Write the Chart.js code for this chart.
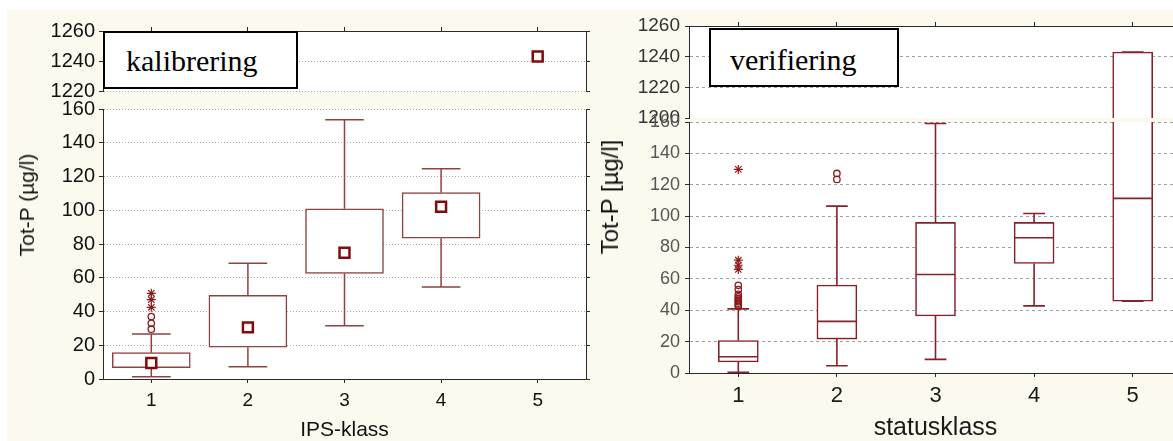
<!DOCTYPE html>
<html lang="sv">
<head>
  <meta charset="UTF-8" />
  <title>Tot-P per klass</title>
  <script src="https://cdn.jsdelivr.net/npm/chart.js@4"></script>
  <style>
    html, body { margin: 0; padding: 0; background: #fff; width: 1173px; height: 441px; overflow: hidden; }
    .paper { position: absolute; left: 7px; top: 10px; right: 0; bottom: 0; background: #fcf9ee; }
    canvas { position: absolute; }
    .tag {
      position: absolute; box-sizing: border-box; border: 2px solid #000; background: #fff; color: #000;
      font-family: 'Liberation Serif', 'Times New Roman', serif; font-size: 30px; line-height: 30px;
    }
    .ytitle {
      position: absolute; white-space: nowrap; color: #111;
      font-family: 'Liberation Sans', Arial, sans-serif;
      transform: translate(-50%, -50%) rotate(-90deg);
    }
  </style>
</head>
<body>
  <div class="paper"></div>

  <!-- kalibrering: upper and lower part of the broken axis -->
  <canvas id="kalTop" width="600" height="110" style="left:0;top:0"></canvas>
  <canvas id="kalBot" width="600" height="351" style="left:0;top:90px"></canvas>
  <!-- verifiering -->
  <canvas id="verTop" width="600" height="140" style="left:600px;top:0"></canvas>
  <canvas id="verBot" width="600" height="346" style="left:600px;top:95px"></canvas>

  <div class="tag" style="left:103px;top:31px;width:195px;height:58px;padding:13px 0 0 21px">kalibrering</div>
  <div class="tag" style="left:709px;top:28px;width:190px;height:59px;padding:15px 0 0 19px">verifiering</div>
  <div class="ytitle" style="left:27px;top:205px;font-size:21px">Tot-P (µg/l)</div>
  <div class="ytitle" style="left:610px;top:197px;font-size:24px">Tot-P [µg/l]</div>

  <script>
    const klasser = [1, 2, 3, 4, 5];

    const kalTicksTop = [1220, 1240, 1260];
    const kalTicksLow = [0, 20, 40, 60, 80, 100, 120, 140, 160];
    const verTicksTop = [1200, 1220, 1240, 1260];
    const verTicksLow = [0, 20, 40, 60, 80, 100, 120, 140, 160];

    // kalibrering per IPS-klass (klass 5 has a single value)
    const kalMin  = [1.4, 7.3, 31.6, 54.5, null];
    const kalQ1   = [6.7, 18.8, 62.6, 83.4, null];
    const kalQ3   = [15.6, 49.6, 100.9, 110.4, null];
    const kalMax  = [26.7, 68.6, 153.7, 124.6, null];
    const kalMean = [9.5, 30.6, 74.8, 102.1, 1243];
    const kalOut  = [[29.5, 33, 37], [], [], [], []];
    const kalExtr = [[42.5, 47, 50.8], [], [], [], []];

    // verifiering per statusklass
    const verMin  = [0.5, 4.6, 8.7, 42.8, 45.8];
    const verQ1   = [7.0, 21.6, 36.4, 69.8, 45.8];
    const verMed  = [10.4, 32.9, 62.8, 86.2, 111.3];
    const verQ3   = [20.7, 56.1, 96.0, 96.0, 1243];
    const verMax  = [40.9, 106.4, 159, 101.7, 1243];
    const verOut  = [[42.5, 43.5, 44.5, 45.5, 46.5, 47.5, 48.5, 50.2, 53.2, 55.9], [123.4, 127.2], [], [], []];
    const verExtr = [[66, 68.7, 71.9, 129.8], [], [], [], []];

    const kal = { min: kalMin, q1: kalQ1, q3: kalQ3, max: kalMax, mean: kalMean, out: kalOut, extr: kalExtr };
    const ver = { min: verMin, q1: verQ1, med: verMed, q3: verQ3, max: verMax, out: verOut, extr: verExtr };

    const frameColor = '#2a2a2a';
    const kalStyle = { box: '#8e4242', boxWidth: 1.5, boxPx: 78, capHalf: 0.2, medHalf: 0.4, mean: '#830a0a', point: '#8a1c1c' };
    const verStyle = { box: '#86202a', boxWidth: 1.6, boxPx: 40, capHalf: 0.11, medHalf: 0.2, mean: '#830a0a', point: '#8a1c1c' };

    Chart.defaults.font.family = "'Liberation Sans', Arial, sans-serif";
    Chart.defaults.animation = false;
    Chart.defaults.events = [];
    Chart.defaults.plugins.legend.display = false;
    Chart.defaults.plugins.tooltip.enabled = false;

    // white plot area on the cream page
    const plotBg = {
      id: 'plotBg',
      beforeDraw(chart) {
        const { ctx, chartArea: a } = chart;
        ctx.save();
        ctx.fillStyle = '#fff';
        ctx.fillRect(a.left, a.top, a.width, a.height);
        ctx.restore();
      }
    };

    // part of [a, b] inside [lo, hi]
    function clip(a, b, lo, hi) {
      const s = Math.max(Math.min(a, b), lo);
      const e = Math.min(Math.max(a, b), hi);
      return s <= e ? [s, e] : null;
    }

    // line segments [x1, y1, x2, y2] as one broken line
    function segPoints(list) {
      const pts = [];
      list.forEach(([x1, y1, x2, y2]) => pts.push({ x: x1, y: y1 }, { x: x2, y: y2 }, { x: null, y: null }));
      return pts;
    }

    function sectionDatasets(s, lo, hi, st) {
      const inside = v => v != null && v >= lo && v <= hi;
      const bars = [], skips = [], whisk = [], meds = [], means = [], outs = [], extr = [];

      klasser.forEach((k, i) => {
        if (s.q1[i] != null) {
          const b = clip(s.q1[i], s.q3[i], lo, hi);
          if (b) {
            bars.push({ x: k, y: b });
            skips.push(s.q3[i] > hi ? 'top' : s.q1[i] < lo ? 'bottom' : false);
          }
          [[s.q3[i], s.max[i]], [s.min[i], s.q1[i]]].forEach(([a, c]) => {
            const w = clip(a, c, lo, hi);
            if (w && w[1] > w[0]) whisk.push([k, w[0], k, w[1]]);
          });
          [s.min[i], s.max[i]].forEach(v => {
            if (inside(v)) whisk.push([k - st.capHalf, v, k + st.capHalf, v]);
          });
        }
        if (s.med && inside(s.med[i])) meds.push([k - st.medHalf, s.med[i], k + st.medHalf, s.med[i]]);
        if (s.mean && inside(s.mean[i])) means.push({ x: k, y: s.mean[i] });
        s.out[i].filter(inside).forEach(v => outs.push({ x: k, y: v }));
        s.extr[i].filter(inside).forEach(v => extr.push({ x: k, y: v }));
      });

      return [
        {
          type: 'bar', data: bars, order: 5,
          backgroundColor: '#fff', borderColor: st.box, borderWidth: st.boxWidth,
          borderSkipped: c => skips[c.dataIndex], barThickness: st.boxPx
        },
        {
          type: 'line', data: segPoints(whisk), order: 4,
          borderColor: st.box, borderWidth: st.boxWidth, pointRadius: 0, fill: false
        },
        {
          type: 'line', data: segPoints(meds), order: 3,
          borderColor: st.box, borderWidth: st.boxWidth, pointRadius: 0, fill: false
        },
        {
          type: 'scatter', data: means, order: 2,
          pointStyle: 'rect', pointRadius: 7, pointBorderWidth: 2.5,
          pointBorderColor: st.mean, pointBackgroundColor: '#fff'
        },
        {
          type: 'scatter', data: outs, order: 1,
          pointStyle: 'circle', pointRadius: 3.2, pointBorderWidth: 1.3,
          pointBorderColor: st.point, pointBackgroundColor: 'rgba(0,0,0,0)'
        },
        {
          type: 'scatter', data: extr, order: 0,
          pointStyle: 'star', pointRadius: 4.5, pointBorderWidth: 1.2,
          pointBorderColor: st.point, pointBackgroundColor: st.point
        }
      ];
    }

    function xAxis(sec) {
      const bottom = sec.xPos === 'bottom';
      return {
        type: 'linear', position: sec.xPos, min: 0.5, max: 5.5, offset: false,
        afterBuildTicks: s => { s.ticks = klasser.map(v => ({ value: v })); },
        afterFit: s => { s.height = sec.xHeight; },
        ticks: {
          display: bottom, color: sec.xColor, font: { size: sec.xFont },
          padding: sec.xPad, maxRotation: 0, callback: v => String(v)
        },
        grid: { offset: false, drawOnChartArea: false, tickColor: frameColor, tickLength: 4 },
        border: { color: frameColor, width: 1 },
        title: bottom
          ? { display: true, text: sec.title, color: sec.xColor, font: { size: sec.titleFont, lineHeight: 1 }, padding: 0 }
          : { display: false }
      };
    }

    function yAxis(sec) {
      const lo = sec.ticks[0];
      return {
        type: 'linear', position: 'left',
        min: lo, max: sec.ticks[sec.ticks.length - 1],
        afterBuildTicks: s => { s.ticks = sec.ticks.map(v => ({ value: v })); },
        afterFit: s => { s.width = sec.yWidth; },
        ticks: { color: sec.yColor, font: { size: sec.yFont }, padding: sec.yPad, autoSkip: false, callback: v => String(v) },
        grid: {
          // the break line is drawn once, by the lower part
          color: c => (sec.hideLowGrid && c.tick && c.tick.value === lo ? 'rgba(0,0,0,0)' : sec.grid),
          lineWidth: 1, tickColor: frameColor, tickLength: 4
        },
        border: { color: frameColor, width: 1, dash: sec.dash }
      };
    }

    function rightAxis(sec) {
      return {
        type: 'linear', position: 'right',
        min: sec.ticks[0], max: sec.ticks[sec.ticks.length - 1],
        afterBuildTicks: s => { s.ticks = sec.ticks.map(v => ({ value: v })); },
        afterFit: s => { s.width = sec.rWidth; },
        ticks: { display: false },
        grid: { drawOnChartArea: false, tickColor: frameColor, tickLength: 4 },
        border: { color: frameColor, width: 1 }
      };
    }

    function drawSection(id, stats, st, sec) {
      const lo = sec.ticks[0], hi = sec.ticks[sec.ticks.length - 1];
      new Chart(document.getElementById(id), {
        type: 'bar',
        data: { datasets: sectionDatasets(stats, lo, hi, st) },
        options: {
          responsive: false,
          layout: { padding: { left: 0, right: 0, top: sec.padTop, bottom: sec.padBottom } },
          scales: { x: xAxis(sec), y: yAxis(sec), yr: rightAxis(sec) }
        },
        plugins: [plotBg]
      });
    }

    const kalAxes = { yWidth: 103, rWidth: 14, yFont: 20, yColor: '#111', yPad: 4, grid: '#a9a9a9', dash: [1, 2] };
    const verAxes = { yWidth: 89, rWidth: 18, yPad: 5, grid: '#a0a0a0', dash: [3, 3] };

    drawSection('kalTop', kal, kalStyle, Object.assign({}, kalAxes, {
      ticks: kalTicksTop, xPos: 'top', xHeight: 31, padTop: 0, padBottom: 19
    }));
    drawSection('kalBot', kal, kalStyle, Object.assign({}, kalAxes, {
      ticks: kalTicksLow, xPos: 'bottom', xHeight: 62, padTop: 19, padBottom: 0,
      xFont: 19, xColor: '#111', xPad: 6, title: 'IPS-klass', titleFont: 21
    }));
    drawSection('verTop', ver, verStyle, Object.assign({}, verAxes, {
      ticks: verTicksTop, yFont: 19, yColor: '#333', xPos: 'top', xHeight: 26, padTop: 0, padBottom: 22,
      hideLowGrid: true
    }));
    drawSection('verBot', ver, verStyle, Object.assign({}, verAxes, {
      ticks: verTicksLow, yFont: 18, yColor: '#555', xPos: 'bottom', xHeight: 68, padTop: 27, padBottom: 0,
      xFont: 22, xColor: '#1a1a1a', xPad: 6, title: 'statusklass', titleFont: 25
    }));
  </script>
</body>
</html>
